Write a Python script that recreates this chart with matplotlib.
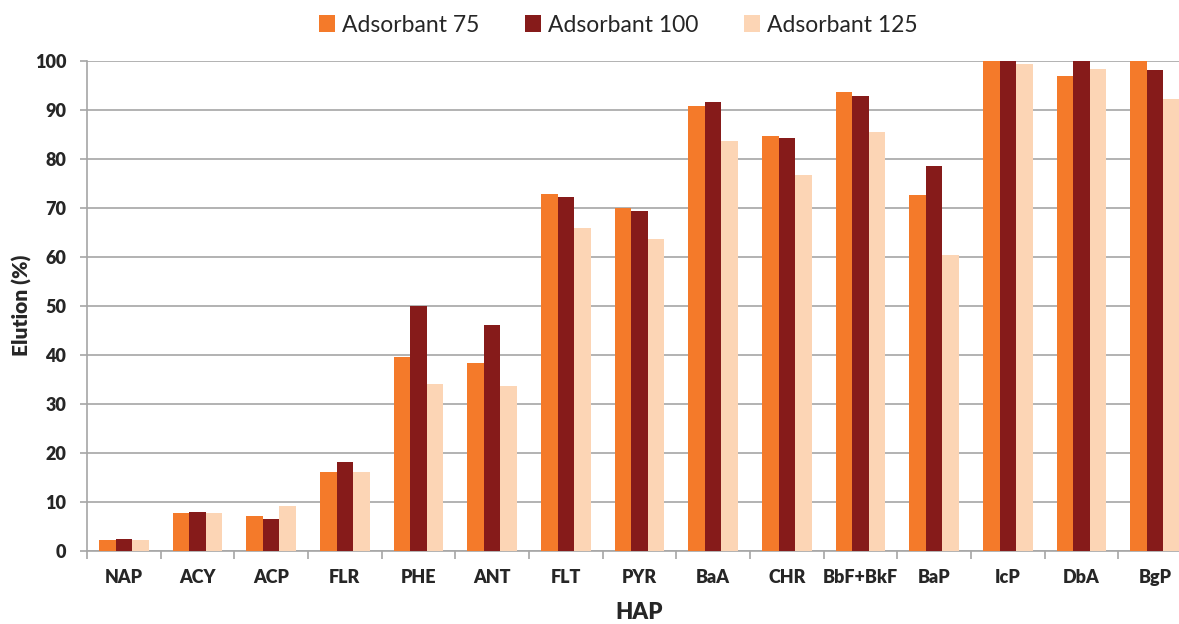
import numpy as np
import matplotlib
matplotlib.use("Agg")
import matplotlib.pyplot as plt
from matplotlib.ticker import MultipleLocator, FixedLocator

plt.rcParams['font.family'] = ['Lato', 'DejaVu Sans']

# 各HAP在三种吸附剂用量下的洗脱率 (%)
hap = ['NAP', 'ACY', 'ACP', 'FLR', 'PHE', 'ANT', 'FLT', 'PYR',
       'BaA', 'CHR', 'BbF+BkF', 'BaP', 'IcP', 'DbA', 'BgP']
ads_75 = [2.1, 7.6, 7.1, 16.1, 39.5, 38.4, 72.9, 70.0, 90.8, 84.6, 93.6, 72.6, 100.0, 96.9, 100.0]
ads_100 = [2.4, 7.9, 6.4, 18.1, 49.9, 46.0, 72.3, 69.4, 91.6, 84.3, 92.8, 78.5, 100.0, 100.0, 98.2]
ads_125 = [2.1, 7.6, 9.0, 16.1, 34.0, 33.7, 65.9, 63.6, 83.7, 76.7, 85.4, 60.3, 99.4, 98.4, 92.2]

series = [('Adsorbant 75', ads_75, '#F47A2A'),
          ('Adsorbant 100', ads_100, '#861B1A'),
          ('Adsorbant 125', ads_125, '#FCD5B5')]

fig = plt.figure(figsize=(11.79, 6.24), dpi=100)
ax = fig.add_axes([87 / 1179, 1 - 550.5 / 624, (1192 - 87) / 1179, (550.5 - 61) / 624])

x = np.arange(len(hap))
w = 0.224
for i, (name, vals, color) in enumerate(series):
    ax.bar(x + (i - 1) * w, vals, width=w, color=color, label=name, zorder=3)

ax.set_xlim(-0.5, len(hap) - 0.5)
ax.set_ylim(0, 100)
ax.yaxis.set_major_locator(MultipleLocator(10))
ax.grid(axis='y', color='#A6A6A6', linewidth=1.2, zorder=0)

# 类别分隔刻度
ax.set_xticks(x)
ax.set_xticklabels(hap, fontsize=13, fontweight='heavy', color='#262626')
ax.xaxis.set_minor_locator(FixedLocator(np.arange(-0.5, len(hap), 1)))
ax.tick_params(axis='x', which='major', length=0, pad=13)
ax.tick_params(axis='x', which='minor', length=6, color='#A6A6A6', width=1.2)
ax.tick_params(axis='y', length=5, color='#A6A6A6', width=1.2, pad=10,
               labelsize=13)
for lab in ax.get_yticklabels():
    lab.set_fontweight('heavy')
    lab.set_color('#262626')

for side in ['top', 'right']:
    ax.spines[side].set_visible(False)
for side in ['left', 'bottom']:
    ax.spines[side].set_color('#A6A6A6')
    ax.spines[side].set_linewidth(1.2)

ax.set_ylabel('Elution (%)', fontsize=15, fontweight='heavy', color='#262626', labelpad=2)
ax.set_xlabel('HAP', fontsize=16, fontweight='heavy', color='#262626', labelpad=12)

fig.legend(loc='center', bbox_to_anchor=(618 / 1179, 1 - 25 / 624), ncol=3,
           frameon=False, fontsize=16.5, handlelength=0.7, handleheight=0.7,
           handletextpad=0.3, columnspacing=2.0, labelcolor='#262626')

fig.savefig('out.png', dpi=100)
